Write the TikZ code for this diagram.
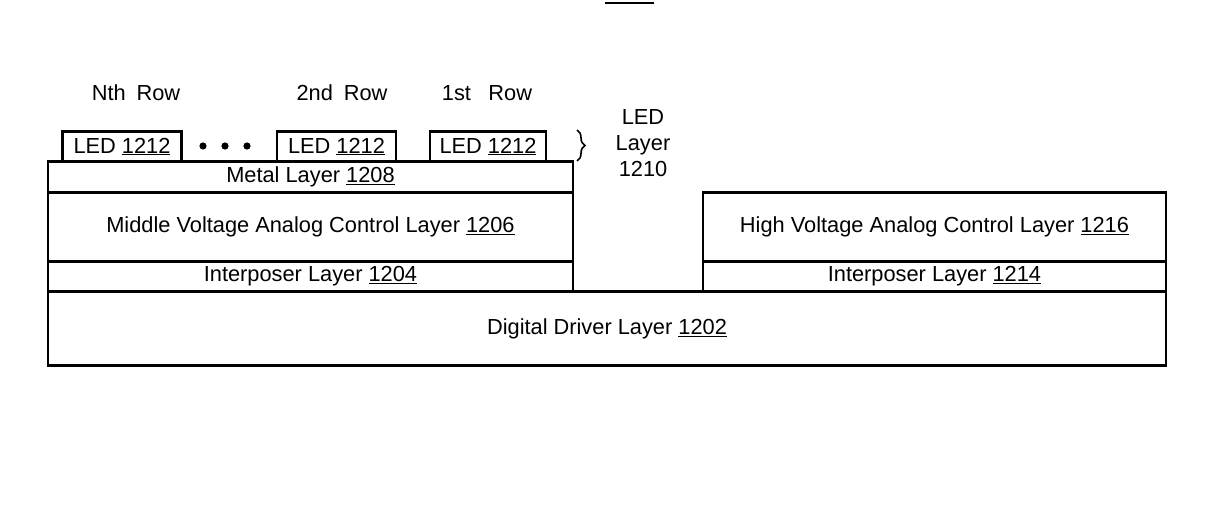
\documentclass[tikz,border=0pt]{standalone}
\usepackage{fontspec}
\setmainfont{Liberation Sans}
\usetikzlibrary{decorations.pathreplacing}
\newcommand{\ulnum}[1]{\underline{#1}}
\begin{document}
\begin{tikzpicture}[x=1pt,y=-1pt,
  every node/.style={font=\fontsize{21.8}{25}\selectfont},
  layerbox/.style={draw, line width=2.2pt, inner sep=0pt, anchor=center},
  plain/.style={inner sep=0pt, anchor=center},
  rowlabel/.style={inner sep=0pt, anchor=base}]
\useasboundingbox (0,0) rectangle (1223,516);
% cut-off title underline
\coordinate (tl) at (605,3);
\coordinate (tr) at (654,3);
\draw[line width=2pt] (tl) -- (tr);
% base
\node[layerbox, minimum width=1118pt, minimum height=74pt] (dig) at (607,328.5) {Digital Driver Layer \ulnum{1202}};
% left stack
\node[layerbox, minimum width=525pt, minimum height=30pt] (int1) at (310.5,276.5) {Interposer Layer \ulnum{1204}};
\node[layerbox, minimum width=525pt, minimum height=69pt] (mid) at (310.5,227) {Middle Voltage Analog Control Layer \ulnum{1206}};
\node[layerbox, minimum width=525pt, minimum height=31pt] (metal) at (310.5,177) {Metal Layer \ulnum{1208}};
% right stack
\node[layerbox, minimum width=463pt, minimum height=30pt] (int2) at (934.5,276.5) {Interposer Layer \ulnum{1214}};
\node[layerbox, minimum width=463pt, minimum height=69pt] (high) at (934.5,227) {High Voltage Analog Control Layer \ulnum{1216}};
% LEDs
\node[layerbox, minimum width=119pt, minimum height=30pt] (led1) at (122,146.5) {LED \ulnum{1212}};
\node[layerbox, minimum width=119pt, minimum height=30pt] (led2) at (336.5,146.5) {LED \ulnum{1212}};
\node[layerbox, minimum width=116pt, minimum height=30pt] (led3) at (488,146.5) {LED \ulnum{1212}};
% dots
\foreach \xx in {203,225,247}
  \fill (\xx,146) circle (3.6pt);
% row labels
\node[rowlabel] (rowN) at (136,101) {Nth\hspace{0.5em}Row};
\node[rowlabel] (row2) at (342,101) {2nd\hspace{0.5em}Row};
\node[rowlabel] (row1) at (487,101) {1st\hspace{0.8em}Row};
% brace
\coordinate (bt) at (577,130);
\coordinate (bb) at (577,161);
\draw[line width=1.6pt, decorate, decoration={brace, amplitude=8pt}] (bt) -- (bb);
\node[plain, align=center, font=\fontsize{21.8}{26}\selectfont] (ledlayer) at (643,143.5) {LED\\Layer\\1210};
\end{tikzpicture}
\end{document}
